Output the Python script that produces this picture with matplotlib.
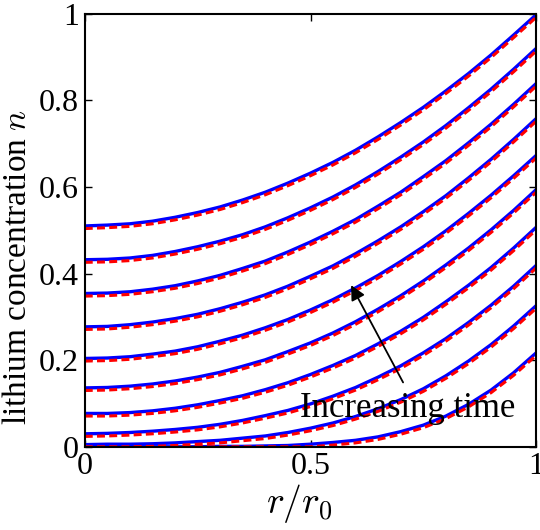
import matplotlib
matplotlib.use("Agg")
import matplotlib.pyplot as plt

plt.rcParams["font.family"] = ["Liberation Serif", "DejaVu Serif"]
plt.rcParams["mathtext.fontset"] = "cm"

# radial positions r/r0
r = [0.0, 0.05, 0.1, 0.15, 0.2, 0.25, 0.3, 0.35, 0.4, 0.45, 0.5,
     0.55, 0.6, 0.65, 0.7, 0.75, 0.8, 0.85, 0.9, 0.95, 1.0]

# concentration profiles (solid blue), one row per time, earliest first
blue_curves = [
    [0.000, 0.000, 0.000, 0.000, 0.000, 0.000, 0.001, 0.001, 0.002, 0.003, 0.006,
     0.010, 0.015, 0.023, 0.035, 0.050, 0.071, 0.098, 0.131, 0.171, 0.217],
    [0.005, 0.006, 0.006, 0.007, 0.009, 0.012, 0.015, 0.020, 0.025, 0.033, 0.043,
     0.055, 0.070, 0.088, 0.109, 0.134, 0.164, 0.198, 0.236, 0.279, 0.326],
    [0.030, 0.031, 0.033, 0.036, 0.040, 0.045, 0.052, 0.061, 0.072, 0.084, 0.099,
     0.117, 0.137, 0.161, 0.187, 0.217, 0.250, 0.287, 0.327, 0.371, 0.419],
    [0.077, 0.077, 0.079, 0.083, 0.089, 0.097, 0.107, 0.118, 0.132, 0.148, 0.167,
     0.188, 0.211, 0.238, 0.267, 0.299, 0.335, 0.373, 0.414, 0.459, 0.507],
    [0.136, 0.137, 0.140, 0.145, 0.152, 0.161, 0.172, 0.186, 0.201, 0.220, 0.240,
     0.263, 0.289, 0.318, 0.349, 0.383, 0.420, 0.459, 0.501, 0.546, 0.594],
    [0.204, 0.205, 0.208, 0.214, 0.221, 0.231, 0.244, 0.258, 0.275, 0.294, 0.316,
     0.340, 0.367, 0.396, 0.428, 0.462, 0.499, 0.539, 0.581, 0.626, 0.673],
    [0.277, 0.278, 0.282, 0.288, 0.296, 0.306, 0.319, 0.334, 0.351, 0.371, 0.394,
     0.418, 0.446, 0.476, 0.508, 0.543, 0.580, 0.621, 0.664, 0.710, 0.758],
    [0.354, 0.355, 0.358, 0.364, 0.372, 0.383, 0.396, 0.412, 0.429, 0.450, 0.473,
     0.498, 0.525, 0.556, 0.588, 0.624, 0.661, 0.702, 0.745, 0.791, 0.839],
    [0.432, 0.433, 0.436, 0.442, 0.451, 0.462, 0.475, 0.490, 0.508, 0.529, 0.552,
     0.577, 0.605, 0.636, 0.669, 0.704, 0.742, 0.783, 0.826, 0.872, 0.920],
    [0.510, 0.512, 0.515, 0.521, 0.530, 0.541, 0.554, 0.570, 0.588, 0.609, 0.632,
     0.657, 0.685, 0.716, 0.749, 0.784, 0.822, 0.862, 0.905, 0.951, 0.998],
]

# second model (dashed red), same times
red_curves = [
    [0.000, 0.000, 0.000, 0.000, 0.000, 0.000, 0.000, 0.000, 0.000, 0.000, 0.000,
     0.004, 0.009, 0.017, 0.029, 0.044, 0.065, 0.092, 0.125, 0.165, 0.211],
    [0.000, 0.000, 0.000, 0.001, 0.003, 0.006, 0.009, 0.014, 0.019, 0.027, 0.037,
     0.049, 0.064, 0.082, 0.103, 0.128, 0.158, 0.192, 0.230, 0.273, 0.320],
    [0.024, 0.025, 0.027, 0.030, 0.034, 0.039, 0.046, 0.055, 0.066, 0.078, 0.093,
     0.111, 0.131, 0.155, 0.181, 0.211, 0.244, 0.281, 0.321, 0.365, 0.413],
    [0.071, 0.071, 0.073, 0.077, 0.083, 0.091, 0.101, 0.112, 0.126, 0.142, 0.161,
     0.182, 0.205, 0.232, 0.261, 0.293, 0.329, 0.367, 0.408, 0.453, 0.501],
    [0.130, 0.131, 0.134, 0.139, 0.146, 0.155, 0.166, 0.180, 0.195, 0.214, 0.234,
     0.257, 0.283, 0.312, 0.343, 0.377, 0.414, 0.453, 0.495, 0.540, 0.588],
    [0.198, 0.199, 0.202, 0.208, 0.215, 0.225, 0.238, 0.252, 0.269, 0.288, 0.310,
     0.334, 0.361, 0.390, 0.422, 0.456, 0.493, 0.533, 0.575, 0.620, 0.667],
    [0.271, 0.272, 0.276, 0.282, 0.290, 0.300, 0.313, 0.328, 0.345, 0.365, 0.388,
     0.412, 0.440, 0.470, 0.502, 0.537, 0.574, 0.615, 0.658, 0.704, 0.752],
    [0.348, 0.349, 0.352, 0.358, 0.366, 0.377, 0.390, 0.406, 0.423, 0.444, 0.467,
     0.492, 0.519, 0.550, 0.582, 0.618, 0.655, 0.696, 0.739, 0.785, 0.833],
    [0.426, 0.427, 0.430, 0.436, 0.445, 0.456, 0.469, 0.484, 0.502, 0.523, 0.546,
     0.571, 0.599, 0.630, 0.663, 0.698, 0.736, 0.777, 0.820, 0.866, 0.914],
    [0.504, 0.506, 0.509, 0.515, 0.524, 0.535, 0.548, 0.564, 0.582, 0.603, 0.626,
     0.651, 0.679, 0.710, 0.743, 0.778, 0.816, 0.856, 0.899, 0.945, 0.992],
]

fig = plt.figure(figsize=(5.4, 5.3), dpi=100)
ax = fig.add_axes([0.157, 0.157, 0.836, 0.817])

for blue, red in zip(blue_curves, red_curves):
    ax.plot(r, blue, color="blue", linewidth=2.4)
    ax.plot(r, red, color="red", linewidth=2.2, linestyle=(0, (2.6, 1.4)))

ax.annotate(
    "",
    xy=(0.587, 0.379),
    xytext=(0.708, 0.143),
    arrowprops=dict(arrowstyle="-|>", color="black", lw=1.3, mutation_scale=22),
    zorder=5,
)
ax.text(0.476, 0.088, "Increasing time", fontsize=25, ha="left", va="center",
        zorder=6)

ax.set_xlim(0, 1)
ax.set_ylim(0, 1)
ax.set_xticks([0, 0.5, 1])
ax.set_xticklabels(["0", "0.5", "1"])
ax.set_yticks([0, 0.2, 0.4, 0.6, 0.8, 1])
ax.set_yticklabels(["0", "0.2", "0.4", "0.6", "0.8", "1"])
ax.tick_params(direction="in", length=5, width=1, top=True, right=True,
               labelsize=23, pad=4)
for spine in ax.spines.values():
    spine.set_linewidth(1.5)

ax.set_xlabel(r"$r/r_0$", fontsize=27)
ax.xaxis.set_label_coords(0.475, -0.13, transform=ax.transAxes)
ax.xaxis.label.set_va("center")
ax.set_ylabel(r"lithium concentration $n$", fontsize=24)
ax.yaxis.set_label_coords(-0.115, 0.416)

fig.savefig("out.png", dpi=100)
